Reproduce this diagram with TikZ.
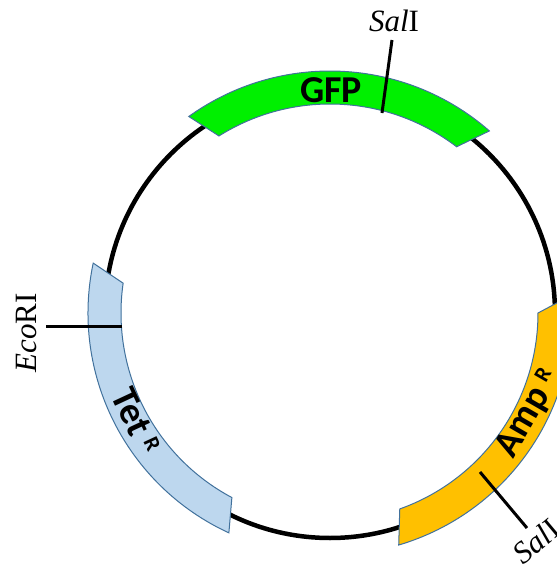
\documentclass[tikz,border=0pt]{standalone}
\usepackage{fontspec}
\setmainfont{Liberation Serif}
\newfontfamily\calib{Carlito}
\definecolor{bandline}{HTML}{41719C}
\definecolor{gfpgreen}{HTML}{00F000}
\definecolor{tetblue}{HTML}{BDD7EE}
\definecolor{ampgold}{HTML}{FFC000}
\newcommand{\supR}{\raisebox{10pt}{\fontsize{22}{22}\selectfont R}}
\begin{document}
\begin{tikzpicture}[
  band/.style={draw=bandline, line width=1pt, line join=miter},
  site/.style={line width=3pt, black},
  enz/.style={font=\fontsize{31}{31}\selectfont, inner sep=0pt},
  gene/.style={font=\calib\bfseries\fontsize{38}{38}\selectfont, inner sep=0pt},
]
\useasboundingbox (-330pt,-253pt) rectangle (227pt,313pt);
\clip (-330pt,-253pt) rectangle (227pt,313pt);
\coordinate (c) at (0pt,0pt);
% backbone
\draw[line width=4.5pt] (c) circle[radius=225pt];
% GFP
\path[band, fill=gfpgreen] (48.8:242pt) arc[start angle=48.8, end angle=125.7, radius=242pt]
  -- (122.1:209pt) arc[start angle=122.1, end angle=52.7, radius=209pt] -- cycle;
% Tet
\path[band, fill=tetblue] (168.1:242pt) arc[start angle=168.1, end angle=245.3, radius=242pt]
  -- (242:209pt) arc[start angle=242, end angle=171.8, radius=209pt] -- cycle;
% Amp
\path[band, fill=ampgold] (286.5:242pt) arc[start angle=286.5, end angle=364.2, radius=242pt]
  -- (360:208pt) arc[start angle=360, end angle=289.6, radius=208pt] -- cycle;
% labels
\node[gene] (gfp) at (1pt,223pt) {GFP};
\node[gene, rotate=-65] (tet) at (-194pt,-108pt) {Tet\hspace{8pt}\supR};
\node[gene, rotate=60] (amp) at (199pt,-101pt) {Amp\hspace{8pt}\supR};
% restriction sites
\node[enz] (sal1) at (64pt,292pt) {\textit{Sal}I};
\coordinate (sal1a) at (52pt,200pt);
\coordinate (sal1b) at (62pt,273pt);
\draw[site] (sal1a) -- (sal1b);
\node[enz, rotate=90] (eco) at (-303pt,-20pt) {\textit{Eco}RI};
\coordinate (ecoa) at (-208pt,-13pt);
\coordinate (ecob) at (-284pt,-13pt);
\draw[site] (ecoa) -- (ecob);
\node[enz, rotate=40] (sal2) at (206pt,-228pt) {\textit{Sal}I};
\coordinate (sal2a) at (150pt,-159pt);
\coordinate (sal2b) at (197pt,-215pt);
\draw[site] (sal2a) -- (sal2b);
\end{tikzpicture}
\end{document}
